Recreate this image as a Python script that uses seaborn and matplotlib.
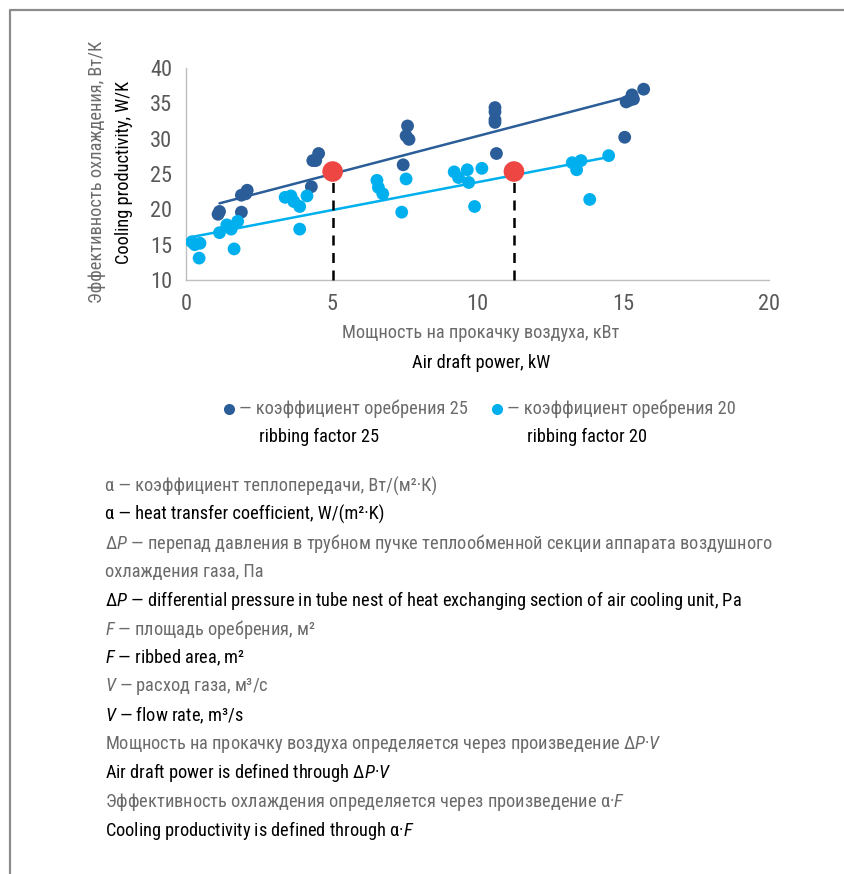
import matplotlib
matplotlib.use("Agg")
import matplotlib.pyplot as plt
from matplotlib import font_manager
from matplotlib.lines import Line2D
import pandas as pd
import seaborn as sns

# ribbing factor 25 (dark blue points)
x_r25 = [1.1, 1.15, 1.9, 1.9, 2.05, 2.1, 4.3, 4.35, 4.45, 4.55, 7.45, 7.55, 7.6, 7.65,
         10.6, 10.6, 10.6, 10.6, 10.65, 15.05, 15.1, 15.2, 15.3, 15.35, 15.7]
y_r25 = [19.3, 19.7, 22.0, 19.6, 22.2, 22.7, 23.2, 26.9, 26.9, 27.9, 26.3, 30.4, 31.8, 29.9,
         34.4, 33.8, 32.7, 32.3, 27.9, 30.2, 35.2, 35.4, 36.2, 35.6, 37.0]

# ribbing factor 20 (light blue points)
x_r20 = [0.2, 0.3, 0.48, 0.45, 1.15, 1.4, 1.55, 1.65, 1.77, 3.4, 3.6, 3.7, 3.9, 3.9, 4.15,
         6.55, 6.6, 6.75, 7.4, 7.55, 9.2, 9.35, 9.65, 9.7, 9.9, 10.15,
         13.25, 13.4, 13.55, 13.85, 14.5]
y_r20 = [15.4, 15.0, 15.2, 13.1, 16.7, 17.8, 17.2, 14.4, 18.3, 21.7, 21.9, 21.1, 20.4, 17.2, 21.9,
         24.1, 23.1, 22.2, 19.6, 24.3, 25.3, 24.5, 25.6, 23.8, 20.4, 25.8,
         26.6, 25.6, 26.9, 21.4, 27.6]

# trend lines (end points)
trend_x_r25 = [1.15, 15.1]
trend_y_r25 = [20.85, 35.85]
trend_x_r20 = [0.15, 14.5]
trend_y_r20 = [16.05, 27.4]

# equal cooling productivity markers
mark_x = [5.03, 11.25]
mark_y = [25.35, 25.35]

x_ticks = [0, 5, 10, 15, 20]
y_ticks = [10, 15, 20, 25, 30, 35, 40]

legend_ru = ["— коэффициент оребрения 25", "— коэффициент оребрения 20"]
legend_en = ["ribbing factor 25", "ribbing factor 20"]

notes_ru_en = [
    ("α — коэффициент теплопередачи, Вт/(м²·К)", "ru"),
    ("α — heat transfer coefficient, W/(m²·K)", "en"),
    ("$ΔP$ — перепад давления в трубном пучке теплообменной секции аппарата воздушного", "ru"),
    ("охлаждения газа, Па", "ru"),
    ("$ΔP$ — differential pressure in tube nest of heat exchanging section of air cooling unit, Pa", "en"),
    ("$F$ — площадь оребрения, м²", "ru"),
    ("$F$ — ribbed area, m²", "en"),
    ("$V$ — расход газа, м³/с", "ru"),
    ("$V$ — flow rate, m³/s", "en"),
    ("Мощность на прокачку воздуха определяется через произведение $ΔP·V$", "ru"),
    ("Air draft power is defined through $ΔP·V$", "en"),
    ("Эффективность охлаждения определяется через произведение α·$F$", "ru"),
    ("Cooling productivity is defined through α·$F$", "en"),
]

C_DARK = "#2B5D98"
C_LIGHT = "#00B0EE"
C_RED = "#EE4743"
C_GRAY = "#6B6B6B"
C_AX = "#BFBFBF"
TXT_COL = {"ru": C_GRAY, "en": "black"}

df = pd.DataFrame({
    "x": x_r25 + x_r20,
    "y": y_r25 + y_r20,
    "series": ["r25"] * len(x_r25) + ["r20"] * len(x_r20),
})

# pick the narrowest sans family that is installed
ttf = font_manager.fontManager.ttflist
names = {f.name for f in ttf}
FAMILY, STRETCH = "Roboto", "normal"
for cand in ["Liberation Sans Narrow", "Roboto Condensed", "Open Sans Condensed"]:
    if cand in names:
        FAMILY = cand
        break
else:
    for fam in ["DejaVu Sans", "Noto Sans", "Open Sans"]:
        if any(f.name == fam and str(f.stretch) in ("condensed", "semi-condensed", "75", "87.5")
               for f in ttf):
            FAMILY, STRETCH = fam, "condensed"
            break

sns.set_style("white")
plt.rcParams.update({
    "font.family": [FAMILY, "DejaVu Sans"],
    "font.stretch": STRETCH,
    "mathtext.fontset": "custom",
    "mathtext.rm": FAMILY + (":condensed" if STRETCH == "condensed" else ""),
    "mathtext.it": FAMILY + ":italic" + (":condensed" if STRETCH == "condensed" else ""),
    "axes.unicode_minus": False,
})

W, H = 845, 874
fig = plt.figure(figsize=(W / 100, H / 100), dpi=100)

# scale text so the long note line spans the same width as in the reference
renderer = fig.canvas.get_renderer()
probe = fig.text(0, 0, notes_ru_en[4][0], fontsize=10)
probe_w = probe.get_window_extent(renderer).width
probe.remove()
FS = 10 * 635 / probe_w

ax = fig.add_axes([186 / W, 1 - 280 / H, (769 - 186) / W, (280 - 68) / H])


def fx(px):
    return px / W


def fy(py):
    return 1 - py / H


ax.plot(trend_x_r25, trend_y_r25, color=C_DARK, lw=1.8, zorder=2)
ax.plot(trend_x_r20, trend_y_r20, color=C_LIGHT, lw=1.8, zorder=2)

sns.scatterplot(data=df, x="x", y="y", hue="series",
                palette={"r25": C_DARK, "r20": C_LIGHT},
                s=85, edgecolor="none", legend=False, ax=ax, zorder=3)

for mx, my in zip(mark_x, mark_y):
    ax.plot([mx, mx], [y_ticks[0], my], color="black", lw=1.8,
            dashes=(4, 3), zorder=4, clip_on=False)
ax.scatter(mark_x, mark_y, s=220, color=C_RED, edgecolor="none", zorder=5)

ax.set_xlim(0, 20)
ax.set_ylim(10, 40)
ax.set_xticks(x_ticks)
ax.set_yticks(y_ticks)
ax.set_xlabel("")
ax.set_ylabel("")
for side in ["top", "right"]:
    ax.spines[side].set_visible(False)
for side in ["left", "bottom"]:
    ax.spines[side].set_color(C_AX)
    ax.spines[side].set_linewidth(1.0)
ax.tick_params(axis="both", direction="out", length=5, width=1.0, color=C_AX,
               labelcolor="#595959", labelsize=FS * 1.22)
ax.tick_params(axis="y", pad=5)
ax.tick_params(axis="x", pad=5)
ax.set_facecolor("none")

# axis titles
fig.text(fx(97), fy(172), "Эффективность охлаждения, Вт/К", rotation=90,
         ha="center", va="center", color=C_GRAY, fontsize=FS)
fig.text(fx(124), fy(172), "Cooling productivity, W/K", rotation=90,
         ha="center", va="center", color="black", fontsize=FS)
fig.text(fx(481), fy(333), "Мощность на прокачку воздуха, кВт",
         ha="center", va="center", color=C_GRAY, fontsize=FS)
fig.text(fx(481), fy(363), "Air draft power, kW",
         ha="center", va="center", color="black", fontsize=FS)

# legend
for dx, col, ru, en in zip([229, 497], [C_DARK, C_LIGHT], legend_ru, legend_en):
    fig.add_artist(Line2D([fx(dx)], [fy(409)], marker="o", markersize=8,
                          color=col, markeredgewidth=0, transform=fig.transFigure))
    fig.text(fx(dx + 10), fy(409), ru, ha="left", va="center", color=C_GRAY, fontsize=FS)
    fig.text(fx(dx + 30), fy(437), en, ha="left", va="center", color="black", fontsize=FS)

# notes
for i, (txt, lang) in enumerate(notes_ru_en):
    fig.text(fx(105), fy(486 + i * 28.7), txt, ha="left", va="center",
             color=TXT_COL[lang], fontsize=FS)

# frame around the figure (top and left edges)
fig.add_artist(Line2D([fx(10), fx(10), 1.0], [0.0, fy(9.5), fy(9.5)],
                      color="#8C8C8C", lw=1.6, transform=fig.transFigure))

fig.savefig("out.png", dpi=100, facecolor="white")
